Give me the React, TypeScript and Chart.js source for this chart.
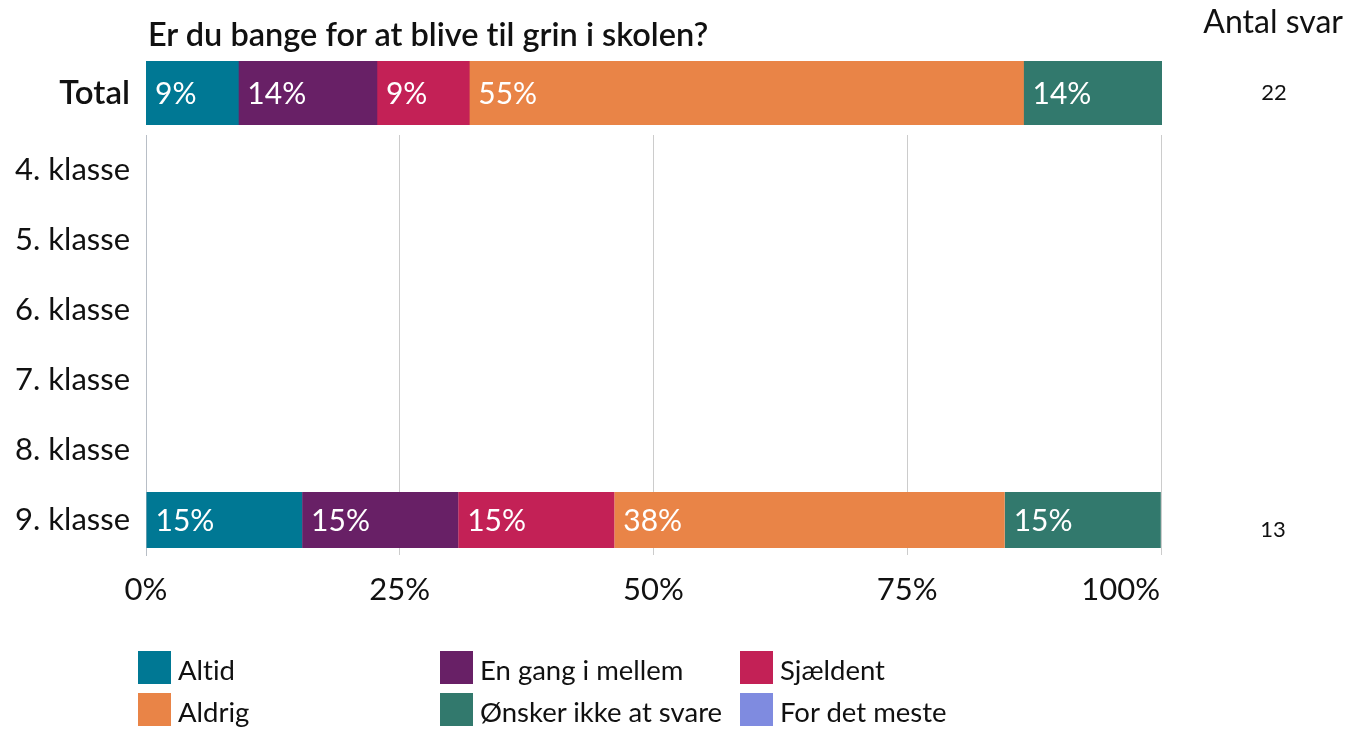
import React, { useEffect, useRef } from "react";
import { Chart, registerables } from "chart.js";

Chart.register(...registerables);

const FONT = "Lato, 'Noto Sans', sans-serif";

const title = "Er du bange for at blive til grin i skolen?";
const countHeader = "Antal svar";

const seriesNames = ["Altid", "En gang i mellem", "Sjældent", "Aldrig", "Ønsker ikke at svare", "For det meste"];
const seriesColors = ["#007894", "#682066", "#C32156", "#E98447", "#32796D", "#7F8BE0"];

const totalLabel = ["Total"];
const totalValues = [9.09, 13.64, 9.09, 54.55, 13.64, 0];
const totalCounts = [22];

const grades = ["4. klasse", "5. klasse", "6. klasse", "7. klasse", "8. klasse", "9. klasse"];
const altidByGrade = [0, 0, 0, 0, 0, 15.38];
const enGangByGrade = [0, 0, 0, 0, 0, 15.38];
const sjaeldentByGrade = [0, 0, 0, 0, 0, 15.38];
const aldrigByGrade = [0, 0, 0, 0, 0, 38.46];
const oenskerByGrade = [0, 0, 0, 0, 0, 15.38];
const forDetMesteByGrade = [0, 0, 0, 0, 0, 0];
const gradeCounts = [null, null, null, null, null, 13];

const xTicks = [0, 25, 50, 75, 100];

const W = 1347;
const H = 729;

const labelPlugin = {
  id: "barLabels",
  afterDatasetsDraw(chart: any) {
    const ctx = chart.ctx;
    ctx.save();
    ctx.font = `30px ${FONT}`;
    ctx.fillStyle = "#ffffff";
    ctx.textAlign = "left";
    ctx.textBaseline = "middle";
    chart.data.datasets.forEach((ds: any, di: number) => {
      const meta = chart.getDatasetMeta(di);
      meta.data.forEach((el: any, i: number) => {
        const v = ds.data[i];
        if (!v) return;
        ctx.fillText(Math.round(v) + "%", Math.min(el.x, el.base) + 9, el.y + 1);
      });
    });
    const opts = chart.options.plugins.barLabels || {};
    const counts: (number | null)[] = opts.counts || [];
    const yScale = chart.scales.y;
    ctx.font = `22px ${FONT}`;
    ctx.fillStyle = "#111111";
    ctx.textAlign = "center";
    counts.forEach((c, i) => {
      if (c == null) return;
      ctx.fillText(String(c), chart.chartArea.right + 112, yScale.getPixelForValue(i) + (opts.dy || 0));
    });
    if (opts.xLabels) {
      const xScale = chart.scales.x;
      ctx.font = `31px ${FONT}`;
      ctx.fillStyle = "#111111";
      xTicks.forEach((v, i) => {
        const last = i === xTicks.length - 1;
        ctx.textAlign = last ? "right" : "center";
        ctx.fillText(v + "%", xScale.getPixelForValue(v) + (last ? -1 : 0), chart.chartArea.bottom + 35);
      });
    }
    ctx.restore();
  },
};

function makeDatasets(arrays: number[][], barPercentage: number) {
  return arrays.map((data, i) => ({
    label: seriesNames[i],
    data,
    backgroundColor: seriesColors[i],
    borderWidth: 0,
    barPercentage,
    categoryPercentage: 1,
  }));
}

export default function App() {
  const totalRef = useRef<HTMLCanvasElement>(null);
  const gradeRef = useRef<HTMLCanvasElement>(null);

  useEffect(() => {
    const totalChart = new Chart(totalRef.current as HTMLCanvasElement, {
      type: "bar",
      data: {
        labels: totalLabel,
        datasets: makeDatasets(totalValues.map((v) => [v]), 1) as any,
      },
      options: {
        animation: false,
        responsive: false,
        indexAxis: "y",
        layout: { padding: { left: 0, top: 61, right: 185, bottom: H - 125 } },
        plugins: {
          legend: { display: false },
          tooltip: { enabled: false },
          barLabels: { counts: totalCounts, dy: 0 },
        } as any,
        scales: {
          x: { display: false, stacked: true, min: 0, max: 100 },
          y: {
            stacked: true,
            grid: { display: false },
            border: { display: false },
            ticks: { color: "#111111", padding: 8, font: { family: FONT, size: 33, weight: 600 } },
            afterFit: (s: any) => {
              s.width = 146;
            },
          },
        },
      },
      plugins: [labelPlugin],
    });

    const gradeChart = new Chart(gradeRef.current as HTMLCanvasElement, {
      type: "bar",
      data: {
        labels: grades,
        datasets: makeDatasets(
          [altidByGrade, enGangByGrade, sjaeldentByGrade, aldrigByGrade, oenskerByGrade, forDetMesteByGrade],
          0.8
        ) as any,
      },
      options: {
        animation: false,
        responsive: false,
        indexAxis: "y",
        layout: { padding: { left: 0, top: 135, right: 186, bottom: 0 } },
        plugins: {
          legend: { display: false },
          tooltip: { enabled: false },
          barLabels: { counts: gradeCounts, dy: 10, xLabels: true },
        } as any,
        scales: {
          x: {
            stacked: true,
            min: 0,
            max: 100,
            afterBuildTicks: (s: any) => {
              s.ticks = xTicks.map((v) => ({ value: v }));
            },
            grid: { color: "#cccccc", drawTicks: false, lineWidth: 1 },
            border: { display: false },
            ticks: { display: false },
            afterFit: (s: any) => {
              s.height = H - 555;
            },
          },
          y: {
            stacked: true,
            grid: { display: false },
            border: { display: true, color: "#b8bec6", width: 1 },
            ticks: { color: "#111111", padding: 8, font: { family: FONT, size: 31 } },
            afterFit: (s: any) => {
              s.width = 146;
            },
          },
        },
      },
      plugins: [labelPlugin],
    });

    return () => {
      totalChart.destroy();
      gradeChart.destroy();
    };
  }, []);

  const legendCols = [138, 440, 740];
  const legendRows = [651, 693];

  return (
    <div
      style={{
        position: "fixed",
        left: 0,
        top: 0,
        width: W,
        height: H,
        background: "#fff",
        fontFamily: FONT,
        color: "#111",
        fontVariantLigatures: "none",
      }}
    >
      <canvas ref={gradeRef} width={W} height={H} style={{ position: "absolute", left: 0, top: 0 }} />
      <canvas ref={totalRef} width={W} height={H} style={{ position: "absolute", left: 0, top: 0 }} />
      <div style={{ position: "absolute", left: 148, top: 15, fontSize: 32.5, fontWeight: 600, whiteSpace: "nowrap", lineHeight: "38px" }}>
        {title}
      </div>
      <div style={{ position: "absolute", right: 4, top: 2, fontSize: 32, whiteSpace: "nowrap", lineHeight: "38px" }}>
        {countHeader}
      </div>
      {seriesNames.map((name, i) => {
        const col = i % 3;
        const row = Math.floor(i / 3);
        return (
          <div
            key={name}
            style={{ position: "absolute", left: legendCols[col], top: legendRows[row], display: "flex", alignItems: "center", height: 33 }}
          >
            <div style={{ width: 33, height: 33, background: seriesColors[i] }} />
            <span style={{ marginLeft: 7, fontSize: 27.5, whiteSpace: "nowrap", lineHeight: "33px", position: "relative", top: 2 }}>{name}</span>
          </div>
        );
      })}
    </div>
  );
}
